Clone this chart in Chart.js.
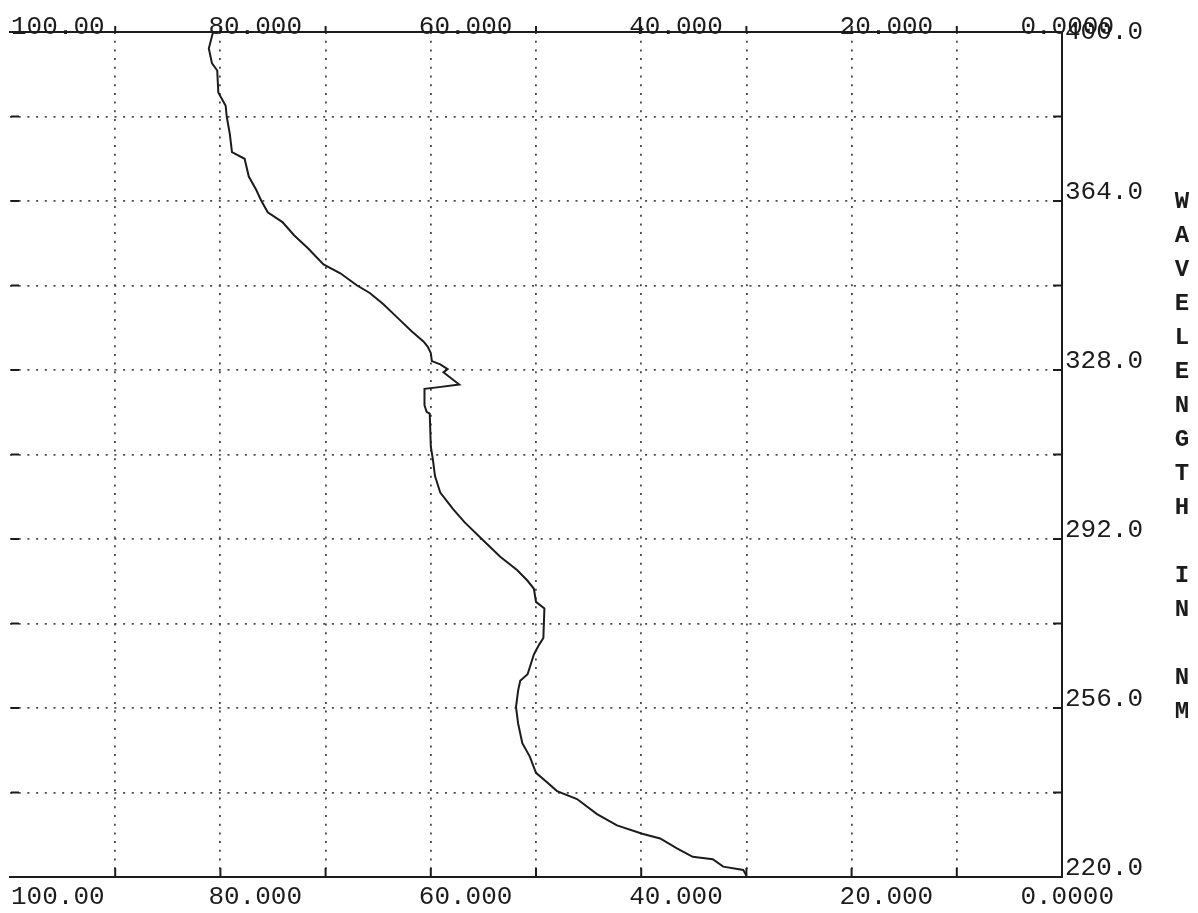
<!DOCTYPE html>
<html>
<head>
<meta charset="utf-8">
<title>Wavelength scan</title>
<script src="https://cdn.jsdelivr.net/npm/chart.js@4.4.1/dist/chart.umd.min.js"></script>
<style>
    html, body { margin: 0; padding: 0; background: #fff; }
    #wrap { width: 1198px; height: 913px; position: relative; }
</style>
</head>
<body>
<div id="wrap"><canvas id="scanChart"></canvas></div>
<script>
// wavelength (nm), top of the scan down to the bottom
const wavelengthNm = [
    400.0, 396.5, 393.3, 391.8, 387.1, 384.3, 382.0, 378.2, 374.4, 373.0,
    369.2, 366.4, 364.0, 361.6, 359.5, 356.7, 354.0, 350.5, 348.6, 346.0,
    344.4, 342.0, 339.0, 336.2, 334.1, 333.0, 331.6, 329.9, 329.2, 328.2,
    327.5, 324.9, 324.3, 324.0, 320.5, 319.1, 318.7, 311.7, 308.9, 305.4,
    301.9, 298.4, 295.6, 292.1, 288.2, 285.4, 283.1, 281.4, 278.6, 277.2,
    270.9, 269.5, 267.4, 263.2, 261.8, 259.7, 256.2, 252.7, 248.5, 245.7,
    242.2, 240.1, 238.3, 236.6, 233.4, 231.0, 229.2, 228.2, 226.1, 224.3,
    223.8, 222.2, 221.5, 220.3
];
// reading on the 100 -> 0 scale at each wavelength
const readingPct = [
    80.7, 81.1, 80.8, 80.3, 80.2, 79.5, 79.4, 79.1, 78.9, 77.7,
    77.3, 76.6, 76.1, 75.5, 74.1, 73.0, 71.7, 70.2, 68.6, 67.0,
    65.8, 64.5, 63.1, 61.8, 60.7, 60.3, 60.0, 59.9, 59.1, 58.4,
    58.8, 57.3, 59.4, 60.6, 60.6, 60.4, 60.1, 60.0, 59.8, 59.6,
    59.1, 57.9, 56.8, 55.2, 53.4, 51.8, 50.8, 50.2, 50.0, 49.2,
    49.3, 49.7, 50.2, 50.8, 51.5, 51.7, 51.9, 51.7, 51.3, 50.6,
    50.0, 48.9, 48.0, 46.1, 44.2, 42.3, 39.9, 38.2, 36.6, 35.1,
    33.2, 32.2, 30.3, 30.0
];

const xLabelValues = [100, 80, 60, 40, 20, 0];
const xTickLabels = ['100.00', '80.000', '60.000', '40.000', '20.000', '0.0000'];
const yLabelValues = [400, 364, 328, 292, 256, 220];
const yTickLabels = ['400.0', '364.0', '328.0', '292.0', '256.0', '220.0'];
const axisTitle = 'WAVELENGTH IN NM';

const INK = '#1c1c1c';
const DOTS = '#4a4a4a';
const MONO = '"Liberation Mono", "DejaVu Sans Mono", monospace';

// axes take no room of their own, padding places the plot box
const noSize = s => { if (s.isHorizontal()) s.height = 0; else s.width = 0; };
const hideEnds = (lo, hi) => c => (c.tick && (c.tick.value === lo || c.tick.value === hi)) ? 'rgba(0,0,0,0)' : DOTS;

const plotterText = {
    id: 'plotterText',
    afterDraw(chart) {
        const { ctx, chartArea: a, scales: { x, y } } = chart;
        ctx.save();
        ctx.fillStyle = INK;
        ctx.strokeStyle = INK;
        ctx.lineWidth = 2;

        // tick marks: bottom (up), top (up), right axis (inward), left stubs
        ctx.beginPath();
        for (let v = 10; v < 100; v += 10) {
            const px = x.getPixelForValue(v);
            ctx.moveTo(px, a.bottom); ctx.lineTo(px, a.bottom - 9);
            ctx.moveTo(px, a.top); ctx.lineTo(px, a.top - 6);
        }
        for (let v = 238; v < 400; v += 18) {
            const py = y.getPixelForValue(v);
            ctx.moveTo(a.right, py); ctx.lineTo(a.right - 9, py);
            ctx.moveTo(a.left + 1, py); ctx.lineTo(a.left + 9, py);
        }
        ctx.stroke();

        ctx.font = '26px ' + MONO;
        xLabelValues.forEach((v, i) => {
            const px = x.getPixelForValue(v);
            let tx = px - 12;
            ctx.textAlign = 'left';
            if (i === 0) tx = px + 1;
            if (i === xLabelValues.length - 1) { ctx.textAlign = 'right'; tx = px + 52; }
            ctx.textBaseline = 'top';
            ctx.fillText(xTickLabels[i], tx, a.bottom + 7);
            ctx.textBaseline = 'alphabetic';
            ctx.fillText(xTickLabels[i], tx, a.top + 2);
        });

        ctx.textAlign = 'left';
        ctx.textBaseline = 'alphabetic';
        yLabelValues.forEach((v, i) => {
            const py = y.getPixelForValue(v);
            ctx.fillText(yTickLabels[i], a.right + 3, py + (v === 400 ? 7 : -2));
        });

        ctx.font = 'bold 24px ' + MONO;
        ctx.textAlign = 'center';
        ctx.textBaseline = 'middle';
        axisTitle.split('').forEach((ch, i) => {
            if (ch !== ' ') ctx.fillText(ch, 1182, 202 + i * 34);
        });
        ctx.restore();
    }
};

new Chart(document.getElementById('scanChart'), {
    type: 'scatter',
    data: {
        datasets: [{
            data: wavelengthNm.map((w, i) => ({ x: readingPct[i], y: w })),
            showLine: true,
            borderColor: INK,
            borderWidth: 2,
            pointRadius: 0,
            tension: 0,
            xAxisID: 'x',
            yAxisID: 'y'
        }]
    },
    options: {
        responsive: true,
        maintainAspectRatio: false,
        animation: false,
        layout: { padding: { left: 10, right: 136, top: 32, bottom: 36 } },
        plugins: { legend: { display: false }, tooltip: { enabled: false } },
        scales: {
            x: {
                type: 'linear', position: 'bottom', min: 0, max: 100, reverse: true,
                afterFit: noSize,
                ticks: { stepSize: 10, display: false },
                grid: { color: hideEnds(0, 100), lineWidth: 1.8, drawTicks: false },
                border: { display: true, color: INK, width: 2, dash: [2, 6.7] }
            },
            x2: {
                type: 'linear', position: 'top', min: 0, max: 100, reverse: true,
                afterFit: noSize,
                ticks: { display: false },
                grid: { display: false, drawTicks: false },
                border: { display: true, color: INK, width: 2 }
            },
            y: {
                type: 'linear', position: 'right', min: 220, max: 400,
                afterFit: noSize,
                ticks: { stepSize: 18, display: false },
                grid: { color: hideEnds(220, 400), lineWidth: 1.8, drawTicks: false },
                border: { display: true, color: INK, width: 2, dash: [2, 6.7] }
            }
        }
    },
    plugins: [plotterText]
});
</script>
</body>
</html>
